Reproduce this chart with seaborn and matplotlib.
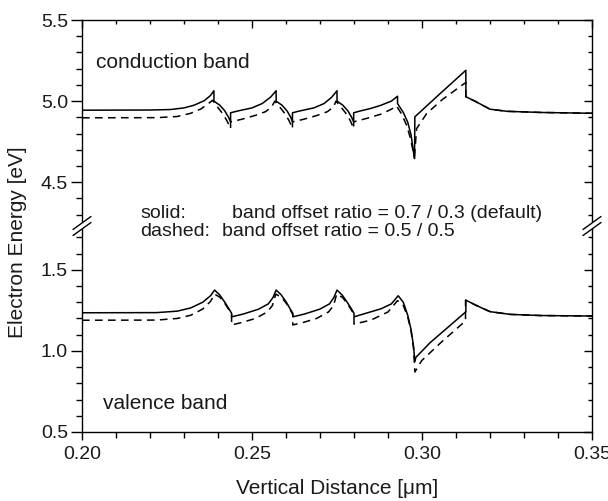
import matplotlib
matplotlib.use("Agg")
import matplotlib.pyplot as plt
from matplotlib.lines import Line2D
from matplotlib.patches import Polygon
from matplotlib.ticker import MultipleLocator, FormatStrFormatter
import seaborn as sns

# Conduction band, default band offset ratio 0.7 / 0.3
cb_solid_x = [0.2000, 0.2200, 0.2260, 0.2300, 0.2330, 0.2360, 0.2378, 0.2388, 0.2388,
              0.2405, 0.2420, 0.2431, 0.2437, 0.2437,
              0.2460, 0.2500, 0.2530, 0.2555, 0.2571, 0.2571,
              0.2588, 0.2603, 0.2614, 0.2619, 0.2619,
              0.2642, 0.2682, 0.2712, 0.2735, 0.2750, 0.2750,
              0.2767, 0.2782, 0.2793, 0.2799, 0.2799,
              0.2820, 0.2850, 0.2880, 0.2910, 0.2928, 0.2928,
              0.2945, 0.2958, 0.2968, 0.2974, 0.2978, 0.2979,
              0.3050, 0.3129, 0.3129, 0.3160, 0.3200, 0.3250, 0.3350, 0.3500]
cb_solid_y = [4.944, 4.945, 4.948, 4.958, 4.975, 5.003, 5.035, 5.064, 5.000,
              4.975, 4.940, 4.900, 4.872, 4.928,
              4.940, 4.958, 4.985, 5.025, 5.064, 5.000,
              4.975, 4.940, 4.900, 4.872, 4.928,
              4.940, 4.958, 4.985, 5.025, 5.064, 5.000,
              4.975, 4.940, 4.900, 4.872, 4.928,
              4.940, 4.955, 4.975, 5.000, 5.030, 4.985,
              4.930, 4.870, 4.790, 4.700, 4.646, 4.903,
              5.040, 5.190, 5.027, 4.995, 4.950, 4.937, 4.930, 4.925]

# Conduction band, band offset ratio 0.5 / 0.5
cb_dash_x = [0.2000, 0.2220, 0.2280, 0.2320, 0.2350, 0.2372, 0.2384,
             0.2398, 0.2413, 0.2426, 0.2437, 0.2437,
             0.2470, 0.2510, 0.2540, 0.2558, 0.2567,
             0.2581, 0.2596, 0.2609, 0.2619, 0.2619,
             0.2652, 0.2692, 0.2722, 0.2740, 0.2747,
             0.2761, 0.2776, 0.2789, 0.2799, 0.2799,
             0.2840, 0.2880, 0.2910, 0.2925,
             0.2940, 0.2955, 0.2966, 0.2973, 0.2978,
             0.2984, 0.3014, 0.3060, 0.3129, 0.3129, 0.3160, 0.3200, 0.3250, 0.3350, 0.3500]
cb_dash_y = [4.897, 4.898, 4.905, 4.925, 4.952, 4.985, 5.005,
             4.965, 4.925, 4.880, 4.831, 4.872,
             4.888, 4.912, 4.935, 4.965, 5.000,
             4.965, 4.925, 4.880, 4.831, 4.872,
             4.888, 4.912, 4.935, 4.965, 5.000,
             4.965, 4.925, 4.880, 4.831, 4.872,
             4.895, 4.920, 4.950, 4.970,
             4.920, 4.850, 4.770, 4.700, 4.660,
             4.830, 4.924, 5.010, 5.115, 5.027, 4.995, 4.950, 4.937, 4.930, 4.925]

# Valence band, default band offset ratio 0.7 / 0.3
vb_solid_x = [0.2000, 0.2220, 0.2280, 0.2320, 0.2355, 0.2378, 0.2390,
              0.2405, 0.2420, 0.2432, 0.2440, 0.2440,
              0.2474, 0.2519, 0.2548, 0.2562, 0.2571,
              0.2586, 0.2601, 0.2612, 0.2620, 0.2620,
              0.2654, 0.2699, 0.2728, 0.2741, 0.2750,
              0.2765, 0.2780, 0.2792, 0.2800, 0.2800,
              0.2840, 0.2880, 0.2910, 0.2930,
              0.2945, 0.2958, 0.2968, 0.2975, 0.2979,
              0.2982, 0.3024, 0.3129, 0.3129, 0.3160, 0.3200, 0.3260, 0.3350, 0.3500]
vb_solid_y = [1.235, 1.236, 1.245, 1.265, 1.300, 1.340, 1.375,
              1.345, 1.300, 1.260, 1.232, 1.210,
              1.227, 1.257, 1.290, 1.330, 1.375,
              1.345, 1.300, 1.260, 1.232, 1.210,
              1.227, 1.257, 1.290, 1.330, 1.375,
              1.345, 1.300, 1.260, 1.232, 1.210,
              1.235, 1.260, 1.290, 1.340,
              1.300, 1.220, 1.130, 1.030, 0.935,
              0.960, 1.051, 1.241, 1.313, 1.280, 1.242, 1.225, 1.218, 1.215]

# Valence band, band offset ratio 0.5 / 0.5
vb_dash_x = [0.2000, 0.2220, 0.2280, 0.2320, 0.2355, 0.2378, 0.2390,
             0.2406, 0.2421, 0.2433, 0.2440, 0.2440,
             0.2470, 0.2510, 0.2545, 0.2560, 0.2570,
             0.2587, 0.2602, 0.2613, 0.2620, 0.2620,
             0.2650, 0.2690, 0.2725, 0.2740, 0.2749,
             0.2766, 0.2781, 0.2793, 0.2800, 0.2800,
             0.2850, 0.2900, 0.2928,
             0.2945, 0.2958, 0.2968, 0.2975, 0.2979,
             0.2999, 0.3060, 0.3128, 0.3128, 0.3160, 0.3200, 0.3260, 0.3350, 0.3500]
vb_dash_y = [1.189, 1.190, 1.200, 1.220, 1.258, 1.305, 1.350,
             1.330, 1.290, 1.250, 1.225, 1.160,
             1.175, 1.200, 1.240, 1.280, 1.350,
             1.330, 1.290, 1.250, 1.225, 1.160,
             1.175, 1.200, 1.240, 1.280, 1.350,
             1.330, 1.290, 1.250, 1.225, 1.165,
             1.190, 1.240, 1.310,
             1.280, 1.210, 1.120, 1.020, 0.870,
             0.940, 1.060, 1.185, 1.313, 1.280, 1.242, 1.225, 1.218, 1.215]

x_ticks = [0.20, 0.25, 0.30, 0.35]
upper_ticks = [4.5, 5.0, 5.5]
lower_ticks = [0.5, 1.0, 1.5]

sns.set_theme(style="ticks")
plt.rcParams["font.family"] = ["Liberation Sans", "DejaVu Sans"]
plt.rcParams["font.size"] = 14

TXT = "#1a1a1a"
W, H = 608, 501
fig = plt.figure(figsize=(W / 100, H / 100), dpi=100)

left_px, right_px = 82, 592
top_px, join_px, bottom_px = 20, 226, 432


def fx(px):
    return px / W


def fy(py):
    return 1 - py / H


ax_top = fig.add_axes([fx(left_px), fy(join_px), fx(right_px - left_px), fy(top_px) - fy(join_px)])
ax_bot = fig.add_axes([fx(left_px), fy(bottom_px), fx(right_px - left_px), fy(join_px) - fy(bottom_px)],
                      sharex=ax_top)

line_kw = dict(color="black", linewidth=1.1, sort=False, estimator=None, legend=False)
dash_style = (0, (5, 3.5))

for ax in (ax_top, ax_bot):
    sns.lineplot(x=cb_solid_x, y=cb_solid_y, ax=ax, **line_kw)
    sns.lineplot(x=cb_dash_x, y=cb_dash_y, ax=ax, **line_kw).lines[-1].set_linestyle(dash_style)
    sns.lineplot(x=vb_solid_x, y=vb_solid_y, ax=ax, **line_kw)
    sns.lineplot(x=vb_dash_x, y=vb_dash_y, ax=ax, **line_kw).lines[-1].set_linestyle(dash_style)

    ax.set_xlim(0.20, 0.35)
    ax.xaxis.set_major_locator(MultipleLocator(0.05))
    ax.xaxis.set_minor_locator(MultipleLocator(0.01))
    ax.yaxis.set_minor_locator(MultipleLocator(0.1))
    ax.yaxis.set_major_formatter(FormatStrFormatter("%.1f"))
    for s in ax.spines.values():
        s.set_linewidth(1.0)
        s.set_color("black")
    ax.tick_params(which="both", color="black", width=1.0, labelsize=14, labelcolor=TXT, pad=2)
    ax.tick_params(axis="y", which="major", length=8, direction="out", left=True, right=False)
    ax.tick_params(axis="y", which="minor", length=4, direction="out", left=True, right=False)
    ax.set_xlabel("")
    ax.set_ylabel("")

ax_top.set_ylim(4.23, 5.5)
ax_top.set_yticks(upper_ticks)
ax_bot.set_ylim(0.5, 1.77)
ax_bot.set_yticks(lower_ticks)

ax_top.spines["bottom"].set_visible(False)
ax_bot.spines["top"].set_visible(False)
ax_top.tick_params(axis="x", which="both", bottom=False, labelbottom=False, top=True, direction="in")
ax_top.tick_params(axis="x", which="major", length=6)
ax_top.tick_params(axis="x", which="minor", length=3)
ax_bot.tick_params(axis="x", which="major", length=6, direction="out", top=False, pad=4)
ax_bot.tick_params(axis="x", which="minor", length=4, direction="out", top=False)
ax_bot.set_xticks(x_ticks)
ax_bot.xaxis.set_major_formatter(FormatStrFormatter("%.2f"))

# inward ticks on the right-hand spine via twin axes
for ax in (ax_top, ax_bot):
    tw = ax.twinx()
    tw.set_ylim(ax.get_ylim())
    tw.yaxis.set_major_locator(MultipleLocator(0.5))
    tw.yaxis.set_minor_locator(MultipleLocator(0.1))
    tw.tick_params(which="major", direction="in", length=6, width=1.0, labelright=False, color="black")
    tw.tick_params(which="minor", direction="in", length=3, width=1.0, color="black")
    for s in tw.spines.values():
        s.set_visible(False)

ax_top.text(0.2041, 5.235, "conduction band", fontsize=15, ha="left", va="center", color=TXT)
ax_bot.text(0.2062, 0.673, "valence band", fontsize=15, ha="left", va="center", color=TXT)

fig.text(fx(140), fy(213), "solid:", fontsize=14, ha="left", va="center", color=TXT)
fig.text(fx(232), fy(213), "band offset ratio = 0.7 / 0.3 (default)", fontsize=14,
         ha="left", va="center", color=TXT)
fig.text(fx(140), fy(232), "dashed:", fontsize=14, ha="left", va="center", color=TXT)
fig.text(fx(222), fy(232), "band offset ratio = 0.5 / 0.5", fontsize=14,
         ha="left", va="center", color=TXT)

fig.text(fx((left_px + right_px) / 2), fy(488), "Vertical Distance [μm]", fontsize=15,
         ha="center", va="center", color=TXT)
fig.text(fx(18), fy(242), "Electron Energy [eV]", fontsize=15, rotation=90,
         ha="center", va="center", color=TXT)

# axis break marks on both vertical spines
for xp in (left_px, right_px):
    gap = [(xp - 9, join_px + 3.5), (xp + 9, join_px - 9.5), (xp + 9, join_px - 3.5), (xp - 9, join_px + 9.5)]
    poly = Polygon([(fx(a), fy(b)) for a, b in gap], closed=True, transform=fig.transFigure,
                   facecolor="white", edgecolor="none", zorder=10)
    fig.add_artist(poly)
    for off in (0.0, 6.0):
        fig.add_artist(Line2D([fx(xp - 9), fx(xp + 9)], [fy(join_px + 3.5 + off), fy(join_px - 9.5 + off)],
                              transform=fig.transFigure, color="black", linewidth=1.0, zorder=11))

fig.savefig("out.png", dpi=100)
